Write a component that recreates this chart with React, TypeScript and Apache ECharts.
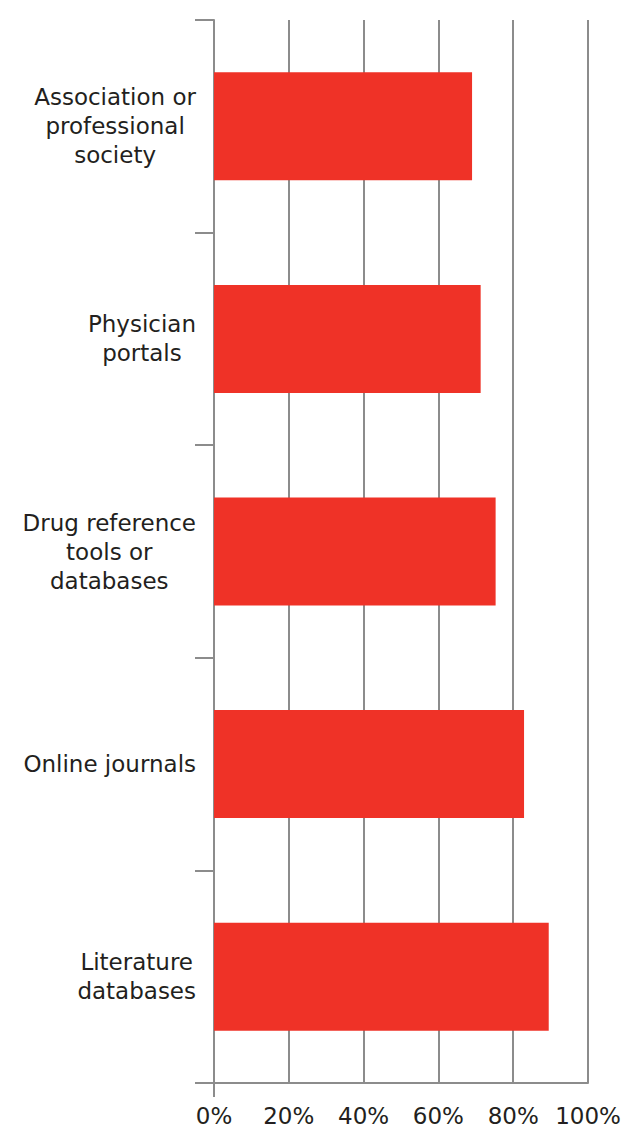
import React, { useEffect, useRef } from "react";
import * as echarts from "echarts";

const categories: string[] = [
  "Association or\nprofessional\nsociety",
  "Physician\nportals",
  "Drug reference\ntools or\ndatabases",
  "Online journals",
  "Literature\ndatabases",
];
const values: number[] = [69, 71.3, 75.3, 82.9, 89.5];
const xTicks: number[] = [0, 20, 40, 60, 80, 100];

const FONT = "'DejaVu Sans', sans-serif";
const GRID_COLOR = "#8c8c8c";
const TEXT_COLOR = "#231f20";
const BAR_COLOR = "#ef3227";

export default function App() {
  const ref = useRef<HTMLDivElement | null>(null);
  useEffect(() => {
    document.body.style.margin = "0";
    if (!ref.current) return;
    const chart = echarts.init(ref.current, null, { renderer: "svg" });
    chart.setOption({
      animation: false,
      backgroundColor: "#ffffff",
      textStyle: { fontFamily: FONT },
      grid: { left: 214, right: 38, top: 20, bottom: 45, containLabel: false },
      xAxis: [
        {
          type: "value",
          position: "bottom",
          min: xTicks[0],
          max: xTicks[xTicks.length - 1],
          interval: 20,
          axisLine: { show: true, lineStyle: { color: GRID_COLOR, width: 2 } },
          axisTick: { show: false },
          splitLine: { show: true, lineStyle: { color: GRID_COLOR, width: 2 } },
          axisLabel: {
            formatter: "{value}%",
            fontSize: 23,
            color: TEXT_COLOR,
            fontFamily: FONT,
            margin: 21,
          },
        },
        {
          type: "value",
          position: "bottom",
          min: xTicks[0],
          max: xTicks[xTicks.length - 1],
          interval: 20,
          axisLine: { show: false },
          axisLabel: { show: false },
          splitLine: { show: false },
          axisTick: {
            show: true,
            customValues: [xTicks[0]],
            length: 14,
            lineStyle: { color: GRID_COLOR, width: 2 },
          },
        },
      ],
      yAxis: {
        type: "category",
        inverse: true,
        data: categories,
        axisLine: { show: true, lineStyle: { color: GRID_COLOR, width: 2 } },
        axisTick: {
          show: true,
          length: 19,
          lineStyle: { color: GRID_COLOR, width: 2 },
        },
        axisLabel: {
          margin: 18,
          align: "right",
          formatter: (v: string) =>
            v
              .split("\n")
              .map((l) => `{c|${l}}`)
              .join("\n"),
          rich: {
            c: {
              align: "center",
              fontSize: 23,
              lineHeight: 29,
              color: TEXT_COLOR,
              fontFamily: FONT,
            },
          },
        },
      },
      series: [
        {
          type: "bar",
          xAxisIndex: 0,
          data: values,
          barWidth: 108,
          itemStyle: { color: BAR_COLOR },
        },
      ],
    });
    return () => chart.dispose();
  }, []);
  return <div ref={ref} style={{ width: 626, height: 1128 }} />;
}
